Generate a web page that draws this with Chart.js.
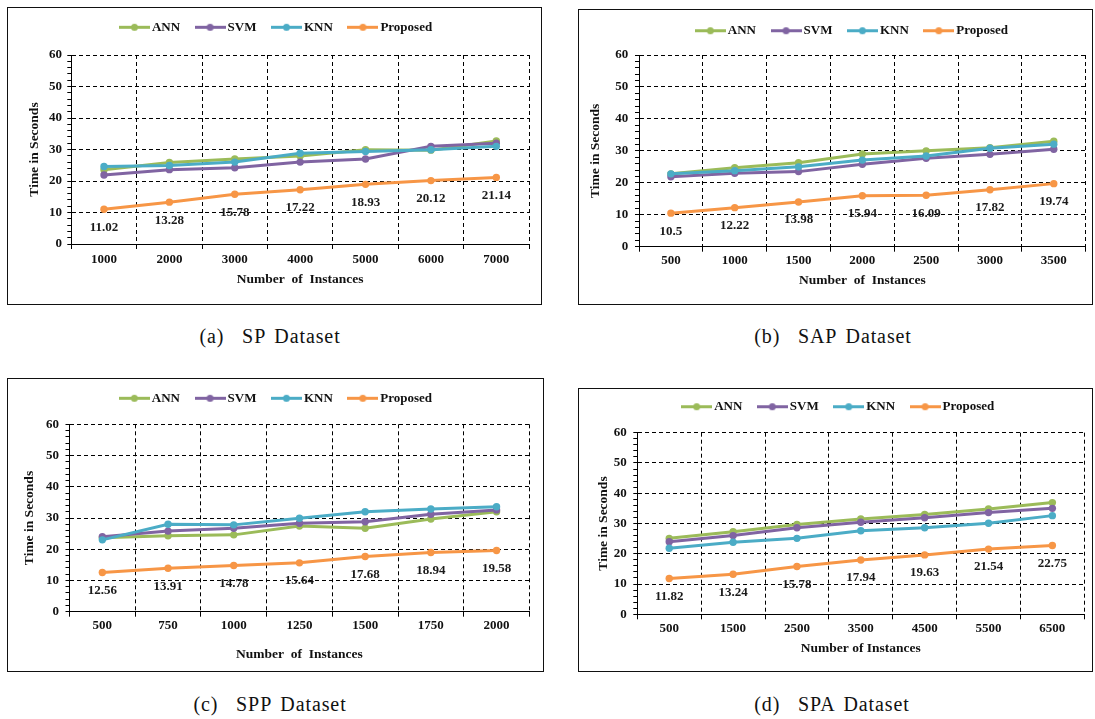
<!DOCTYPE html>
<html><head><meta charset="utf-8">
<script src="https://cdn.jsdelivr.net/npm/chart.js@4.4.1/dist/chart.umd.min.js"></script>
<style>
html,body{margin:0;padding:0;background:#fff;}
body{width:1095px;height:719px;position:relative;overflow:hidden;}
.box{position:absolute;border:1px solid #111;box-sizing:border-box;}
canvas{position:absolute;}
.cap{position:absolute;transform:translate(-50%,-50%);font-family:'Liberation Serif','Times New Roman',serif;font-size:20px;letter-spacing:0.9px;word-spacing:3px;white-space:pre;color:#111;}
</style></head><body>
<div class="box" style="left:7px;top:7px;width:535px;height:298px"></div>
<div class="box" style="left:578px;top:9px;width:515px;height:296px"></div>
<div class="box" style="left:7px;top:378px;width:537px;height:294px"></div>
<div class="box" style="left:578px;top:388px;width:515px;height:284px"></div>
<canvas id="cA" width="540" height="299" style="left:2px;top:1px"></canvas>
<canvas id="cB" width="553" height="295" style="left:575px;top:5px"></canvas>
<canvas id="cC" width="540" height="298" style="left:2px;top:372px"></canvas>
<canvas id="cD" width="518" height="287" style="left:575px;top:381px"></canvas>
<div class="cap" style="left:270px;top:336px">(a)  SP Dataset</div>
<div class="cap" style="left:833px;top:336px">(b)  SAP Dataset</div>
<div class="cap" style="left:270px;top:704px">(c)  SPP Dataset</div>
<div class="cap" style="left:832px;top:704px">(d)  SPA Dataset</div>
<script>
// ---- data ----
const seriesNames = ['ANN', 'SVM', 'KNN', 'Proposed'];
const seriesColors = ['#9BBB59', '#8064A2', '#4BACC6', '#F79646'];
const yMin = 0, yMax = 60, yMajor = 10, yMinor = 2;
const yTitle = 'Time in Seconds';

// (a) SP Dataset
const spLabels = ['1000', '2000', '3000', '4000', '5000', '6000', '7000'];
const spANN = [23.6, 25.9, 27.0, 27.9, 29.9, 29.8, 32.7];
const spSVM = [21.9, 23.6, 24.2, 26.0, 27.0, 31.0, 32.0];
const spKNN = [24.6, 24.9, 26.0, 28.8, 29.4, 29.9, 31.0];
const spProposed = [11.02, 13.28, 15.78, 17.22, 18.93, 20.12, 21.14];

// (b) SAP Dataset
const sapLabels = ['500', '1000', '1500', '2000', '2500', '3000', '3500'];
const sapANN = [22.8, 24.7, 26.3, 29.0, 30.0, 31.0, 33.0];
const sapSVM = [21.9, 23.0, 23.5, 25.8, 27.7, 28.9, 30.5];
const sapKNN = [22.8, 23.8, 25.0, 27.1, 28.4, 30.8, 32.1];
const sapProposed = [10.5, 12.22, 13.98, 15.94, 16.09, 17.82, 19.74];

// (c) SPP Dataset
const sppLabels = ['500', '750', '1000', '1250', '1500', '1750', '2000'];
const sppANN = [23.7, 24.3, 24.6, 27.4, 26.7, 29.7, 32.0];
const sppSVM = [24.0, 25.8, 26.7, 28.3, 28.8, 31.2, 32.6];
const sppKNN = [23.0, 28.0, 27.8, 29.9, 32.0, 32.9, 33.6];
const sppProposed = [12.56, 13.91, 14.78, 15.64, 17.68, 18.94, 19.58];

// (d) SPA Dataset
const spaLabels = ['500', '1500', '2500', '3500', '4500', '5500', '6500'];
const spaANN = [25.1, 27.3, 29.7, 31.5, 33.0, 34.8, 36.9];
const spaSVM = [24.0, 26.0, 28.6, 30.4, 31.9, 33.6, 35.0];
const spaKNN = [21.8, 23.8, 25.1, 27.6, 28.6, 30.1, 32.6];
const spaProposed = [11.82, 13.24, 15.78, 17.94, 19.63, 21.54, 22.75];

// ---- rendering ----
Chart.defaults.font.family = "'Liberation Serif', 'Times New Roman', serif";
Chart.defaults.font.weight = 'bold';
Chart.defaults.color = '#111';

function legendIcon(color) {
  const c = document.createElement('canvas');
  c.width = 31; c.height = 9;
  const g = c.getContext('2d');
  g.strokeStyle = color; g.lineWidth = 3;
  g.beginPath(); g.moveTo(0, 4.5); g.lineTo(31, 4.5); g.stroke();
  g.fillStyle = color;
  g.beginPath(); g.arc(15.5, 4.5, 3.5, 0, Math.PI * 2); g.fill();
  return c;
}

const valueLabels = {
  id: 'valueLabels',
  afterDatasetsDraw(chart) {
    const idx = 3;
    const meta = chart.getDatasetMeta(idx);
    const ds = chart.data.datasets[idx];
    const ctx = chart.ctx;
    ctx.save();
    ctx.font = "bold 13px 'Liberation Serif', serif";
    ctx.fillStyle = '#1a1a1a';
    ctx.textAlign = 'center';
    ctx.textBaseline = 'middle';
    meta.data.forEach((pt, i) => ctx.fillText(String(ds.data[i]), pt.x, pt.y + 18));
    ctx.restore();
  }
};

function makeChart(id, labels, series, cfg) {
  const datasets = series.map((d, i) => ({
    label: seriesNames[i],
    data: d,
    borderColor: seriesColors[i],
    backgroundColor: seriesColors[i],
    pointBackgroundColor: seriesColors[i],
    pointBorderColor: seriesColors[i],
    borderWidth: 3,
    pointRadius: 3.7,
    pointHoverRadius: 3.7,
    pointBorderWidth: 0,
    tension: 0,
    order: 4 - i
  }));
  const scales = {
    x: {
      type: 'category', offset: true,
      grid: { offset: true, color: '#000', lineWidth: 1, tickLength: 5, tickColor: '#000', tickWidth: 1 },
      border: { display: true, color: '#000', width: 1, dash: [4, 3] },
      ticks: { autoSkip: false, maxRotation: 0, minRotation: 0, padding: cfg.xPad, color: '#111', font: { size: 13, weight: 'bold' } },
      title: { display: true, text: cfg.xTitle, color: '#111', font: { size: 13.5, weight: 'bold' }, padding: { top: 0, bottom: 2 } },
      afterFit(s) { s.height = cfg.xH; }
    },
    y: {
      min: yMin, max: yMax,
      ticks: {
        stepSize: yMinor, autoSkip: false, maxTicksLimit: 100, padding: cfg.yPad, color: '#111',
        font: { size: 13, weight: 'bold' },
        callback: v => (v % yMajor === 0 ? String(v) : '')
      },
      grid: {
        color: c => (c.tick && c.tick.value % yMajor === 0) ? '#000' : 'rgba(0,0,0,0)',
        lineWidth: 1, tickColor: '#000', tickLength: 4, tickWidth: 1
      },
      border: { display: true, color: '#000', width: 1, dash: [4, 3] },
      title: { display: true, text: yTitle, color: '#111', font: { size: 13.5, weight: 'bold' }, padding: { top: cfg.yTitlePad, bottom: 0 } },
      afterFit(s) { s.width = cfg.yW; }
    }
  };
  if (cfg.rW) {
    scales.yRight = {
      position: 'right', display: true, min: yMin, max: yMax,
      grid: { display: false, drawTicks: false, drawOnChartArea: false },
      border: { display: false },
      ticks: { display: false },
      afterFit(s) { s.width = cfg.rW; }
    };
  }
  return new Chart(document.getElementById(id), {
    type: 'line',
    data: { labels: labels, datasets: datasets },
    options: {
      responsive: false,
      animation: false,
      devicePixelRatio: 1,
      events: [],
      layout: { padding: { left: cfg.padL, right: cfg.padR, top: cfg.padT, bottom: cfg.padB } },
      plugins: {
        legend: {
          position: 'top', weight: 3000,
          labels: {
            usePointStyle: true, pointStyleWidth: 22, padding: 19,
            font: { size: 13, weight: 'bold' }, color: '#111',
            sort: (a, b) => a.datasetIndex - b.datasetIndex,
            generateLabels(chart) {
              const items = Chart.defaults.plugins.legend.labels.generateLabels(chart);
              items.forEach(it => { it.pointStyle = legendIcon(seriesColors[it.datasetIndex]); });
              return items;
            }
          }
        },
        title: {
          display: true, text: ' ', position: 'top', weight: 500,
          font: { size: 1 }, padding: { top: 0, bottom: cfg.spacer - 1.2 }, color: 'rgba(0,0,0,0)'
        },
        tooltip: { enabled: false }
      },
      scales: scales
    },
    plugins: [valueLabels]
  });
}

makeChart('cA', spLabels, [spANN, spSVM, spKNN, spProposed], {
  padL: 24.6, padR: 13, padT: 0.8, padB: 10.6, yW: 44.7, spacer: 11.2, xH: 45.4,
  xPad: 2.5, yPad: 5.3, yTitlePad: 0.1, xTitle: 'Number  of  Instances'
});
makeChart('cB', sapLabels, [sapANN, sapSVM, sapKNN, sapProposed], {
  padL: 5, padR: 0.6, padT: 0.2, padB: 9.2, yW: 59, rW: 41.7, spacer: 7.8, xH: 44.1,
  xPad: 1.5, yPad: 6.7, yTitlePad: 7.6, xTitle: 'Number  of  Instances'
});
makeChart('cC', sppLabels, [sppANN, sppSVM, sppKNN, sppProposed], {
  padL: 24, padR: 12.6, padT: 0.8, padB: 5.6, yW: 43.5, spacer: 9.5, xH: 52.7,
  xPad: 1.5, yPad: 6.5, yTitlePad: -4.6, xTitle: 'Number  of  Instances'
});
makeChart('cD', spaLabels, [spaANN, spaSVM, spaKNN, spaProposed], {
  padL: 20.7, padR: 8.7, padT: 0.2, padB: 9.6, yW: 41.6, spacer: 9.5, xH: 44.1,
  xPad: 1.9, yPad: 6.6, yTitlePad: -0.5, xTitle: 'Number of Instances'
});
</script>
</body></html>
